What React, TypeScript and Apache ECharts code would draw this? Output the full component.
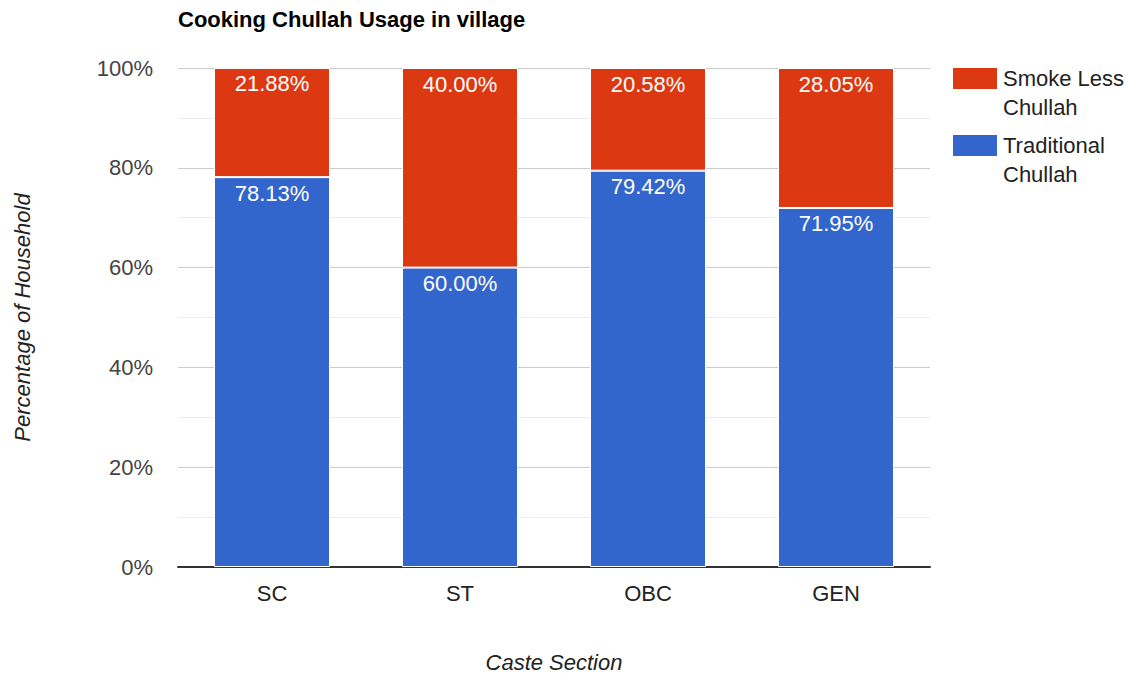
import React, { useEffect, useRef } from "react";
import * as echarts from "echarts";

const categories = ["SC", "ST", "OBC", "GEN"];
const traditional = [78.13, 60.0, 79.42, 71.95];
const smokeLess = [21.88, 40.0, 20.58, 28.05];
const seriesNames = ["Traditional Chullah", "Smoke Less Chullah"];
const legendOrder = ["Smoke Less Chullah", "Traditional Chullah"];

const FONT = "'Liberation Sans', Arial, sans-serif";
const FS = 22;

export default function App() {
  const ref = useRef<HTMLDivElement>(null);
  useEffect(() => {
    const chart = echarts.init(ref.current!, null, { renderer: "svg" });
    const label = {
      show: true,
      position: "insideTop",
      distance: 5,
      color: "#fff",
      fontSize: FS,
      fontFamily: FONT,
      formatter: (p: any) => p.value.toFixed(2) + "%",
    };
    chart.setOption({
      animation: false,
      textStyle: { fontFamily: FONT },
      title: {
        text: "Cooking Chullah Usage in village",
        left: 173,
        top: 3,
        textStyle: { fontSize: FS, fontWeight: "bold", color: "#000", fontFamily: FONT },
      },
      legend: {
        orient: "vertical",
        left: 951,
        top: 35,
        padding: 0,
        data: legendOrder,
        itemWidth: 46,
        itemHeight: 23,
        itemGap: -20,
        icon: "rect",
        formatter: (n: string) => "\n" + n.replace(" Chullah", "\nChullah"),
        textStyle: {
          fontSize: FS,
          color: "#222",
          lineHeight: 29,
          fontFamily: FONT,
        },
      },
      grid: { left: 178, right: 206, top: 68, bottom: 113 },
      xAxis: {
        type: "category",
        data: categories,
        name: "Caste Section",
        nameLocation: "middle",
        nameGap: 84,
        nameTextStyle: { fontSize: FS, fontStyle: "italic", color: "#222" },
        axisLine: { lineStyle: { color: "#333", width: 2 } },
        axisTick: { show: false },
        axisLabel: { fontSize: FS, color: "#222", margin: 15 },
      },
      yAxis: {
        type: "value",
        min: 0,
        max: 100,
        interval: 20,
        name: "Percentage of Household",
        nameLocation: "middle",
        nameGap: 145,
        nameRotate: 90,
        nameTextStyle: { fontSize: FS, fontStyle: "italic", color: "#222" },
        axisLine: { show: false },
        axisTick: { show: false },
        axisLabel: { fontSize: FS, color: "#444", margin: 25, formatter: "{value}%" },
        splitLine: { lineStyle: { color: "#ccc", width: 1 } },
        minorTick: { show: false, splitNumber: 2 },
        minorSplitLine: { show: true, lineStyle: { color: "#ebebeb", width: 1 } },
      },
      series: [
        {
          name: seriesNames[0],
          type: "bar",
          stack: "total",
          data: traditional,
          barWidth: 116,
          itemStyle: { color: "#3366cc", borderColor: "#fff", borderWidth: 1 },
          label,
        },
        {
          name: seriesNames[1],
          type: "bar",
          stack: "total",
          data: smokeLess,
          barWidth: 116,
          itemStyle: { color: "#dc3912", borderColor: "#fff", borderWidth: 1 },
          label,
        },
      ],
    });
    return () => chart.dispose();
  }, []);
  return (
    <div
      ref={ref}
      style={{ position: "absolute", left: 0, top: 0, width: 1136, height: 680 }}
    />
  );
}
